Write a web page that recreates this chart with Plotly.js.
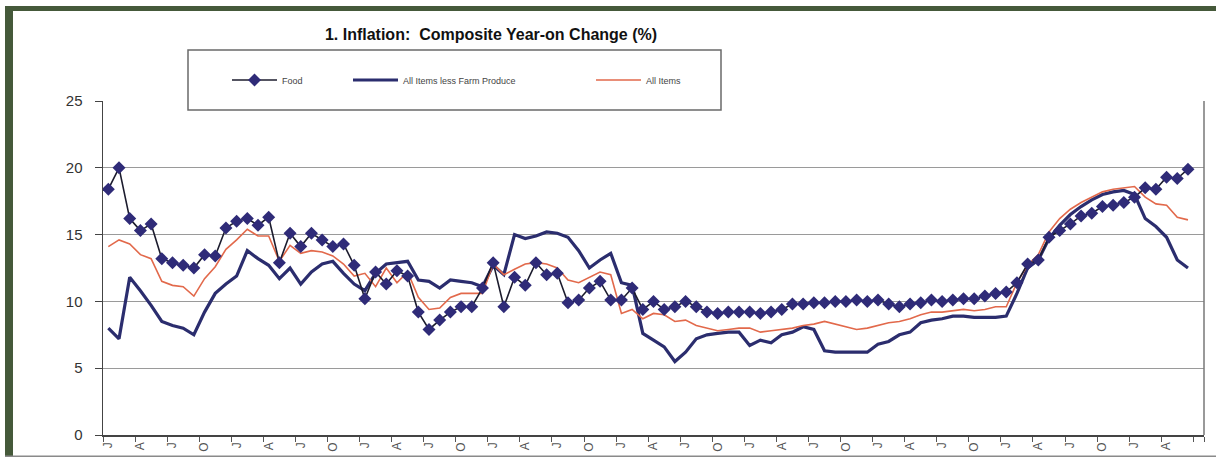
<!DOCTYPE html>
<html>
<head>
<meta charset="utf-8">
<script src="https://cdn.plot.ly/plotly-3.0.1.min.js"></script>
<style>
  html, body { margin: 0; padding: 0; background: #ffffff; }
  #chart { width: 1216px; height: 457px; }
</style>
</head>
<body>
<div id="chart"></div>
<script>
// Categories: monthly, Jan 2009 .. Jul 2017 (last category has no data)
const monthNames = ["Jan","Feb","Mar","Apr","May","Jun","Jul","Aug","Sep","Oct","Nov","Dec"];
const months = [];
for (let i = 0; i < 103; i++) {
  months.push(monthNames[i % 12] + " " + (2009 + Math.floor(i / 12)));
}

// Food (%)
const food = [
  18.4, 20.0, 16.2, 15.3, 15.8, 13.2, 12.9, 12.7, 12.5, 13.5, 13.4, 15.5,
  16.0, 16.2, 15.7, 16.3, 12.9, 15.1, 14.1, 15.1, 14.6, 14.1, 14.3, 12.7,
  10.2, 12.2, 11.3, 12.3, 11.9, 9.2, 7.9, 8.6, 9.2, 9.6, 9.6, 11.0,
  12.9, 9.6, 11.8, 11.2, 12.9, 12.0, 12.1, 9.9, 10.1, 11.0, 11.5, 10.1,
  10.1, 11.0, 9.4, 10.0, 9.4, 9.6, 10.0, 9.6, 9.2, 9.1, 9.2, 9.2,
  9.2, 9.1, 9.2, 9.4, 9.8, 9.8, 9.9, 9.9, 10.0, 10.0, 10.1, 10.0,
  10.1, 9.8, 9.6, 9.8, 9.9, 10.1, 10.0, 10.1, 10.2, 10.2, 10.4, 10.6,
  10.7, 11.4, 12.8, 13.1, 14.8, 15.3, 15.8, 16.4, 16.6, 17.1, 17.2, 17.4,
  17.8, 18.5, 18.4, 19.3, 19.2, 19.9
];

// All Items less Farm Produce (%)
const core = [
  8.0, 7.2, 11.8, 10.8, 9.7, 8.5, 8.2, 8.0, 7.5, 9.2, 10.6, 11.3,
  11.9, 13.8, 13.2, 12.7, 11.7, 12.5, 11.3, 12.2, 12.8, 13.0, 12.1, 11.3,
  10.8, 12.1, 12.8, 12.9, 13.0, 11.6, 11.5, 11.0, 11.6, 11.5, 11.4, 11.1,
  12.7, 12.0, 15.0, 14.7, 14.9, 15.2, 15.1, 14.8, 13.8, 12.5, 13.1, 13.6,
  11.4, 11.2, 7.6, 7.1, 6.6, 5.5, 6.2, 7.2, 7.5, 7.6, 7.7, 7.7,
  6.7, 7.1, 6.9, 7.5, 7.7, 8.1, 7.9, 6.3, 6.2, 6.2, 6.2, 6.2,
  6.8, 7.0, 7.5, 7.7, 8.4, 8.6, 8.7, 8.9, 8.9, 8.8, 8.8, 8.8,
  8.9, 10.6, 12.5, 13.1, 14.7, 15.7, 16.5, 17.1, 17.6, 18.0, 18.2, 18.3,
  18.0, 16.2, 15.6, 14.8, 13.1, 12.5
];

// All Items (%)
const allItems = [
  14.1, 14.6, 14.3, 13.5, 13.2, 11.5, 11.2, 11.1, 10.4, 11.7, 12.6, 13.9,
  14.6, 15.4, 14.9, 14.9, 13.0, 14.2, 13.6, 13.8, 13.7, 13.4, 12.8, 11.9,
  12.1, 11.1, 12.5, 11.4, 12.2, 10.3, 9.4, 9.5, 10.3, 10.6, 10.6, 10.6,
  12.8, 12.0, 12.4, 12.8, 12.9, 12.8, 12.5, 11.6, 11.4, 11.8, 12.2, 12.0,
  9.1, 9.4, 8.7, 9.1, 9.0, 8.5, 8.6, 8.2, 8.0, 7.8, 7.9, 8.0,
  8.0, 7.7, 7.8, 7.9, 8.0, 8.2, 8.3, 8.5, 8.3, 8.1, 7.9, 8.0,
  8.2, 8.4, 8.5, 8.7, 9.0, 9.2, 9.2, 9.3, 9.4, 9.3, 9.4, 9.6,
  9.6, 11.4, 12.7, 13.5, 15.2, 16.2, 16.9, 17.4, 17.8, 18.2, 18.4, 18.5,
  18.6, 17.8, 17.3, 17.2, 16.3, 16.1
];

// Tick labels: one every quarter, month initial
const tickVals = months.filter((m, i) => i % 3 === 0);
const tickText = tickVals.map((m, i) => (i === tickVals.length - 1 ? "" : m.charAt(0)));

const xData = months.slice(0, food.length);

// geometry helpers (pixel -> paper) for decorative frame
const L = 103, R = 12, T = 101, B = 22, W = 1216, H = 457;
const pw = W - L - R, ph = H - T - B;
const px = v => (v - L) / pw;
const py = v => (H - B - v) / ph;

const traces = [
  {
    name: "All Items less Farm Produce",
    x: xData, y: core, type: "scatter", mode: "lines",
    line: { color: "#2b2d6e", width: 3.2 },
    legend: "legend2"
  },
  {
    name: "All Items",
    x: xData, y: allItems, type: "scatter", mode: "lines",
    line: { color: "#e2694b", width: 1.6 },
    legend: "legend3"
  },
  {
    name: "Food",
    x: xData, y: food, type: "scatter", mode: "lines+markers",
    line: { color: "#1c1c2e", width: 1.6 },
    marker: { symbol: "diamond", size: 10, color: "#2f2b78", line: { width: 0 } },
    legend: "legend"
  }
];

const legendCommon = {
  orientation: "h",
  bgcolor: "rgba(0,0,0,0)",
  borderwidth: 0,
  itemwidth: 45,
  font: { family: "Liberation Sans, Arial, sans-serif", size: 9, color: "#444" },
  xref: "paper", yref: "paper",
  xanchor: "left", yanchor: "middle",
  y: py(80)
};

const layout = {
  width: W, height: H,
  margin: { l: L, r: R, t: T, b: B, pad: 0 },
  paper_bgcolor: "#ffffff",
  plot_bgcolor: "#ffffff",
  showlegend: true,
  title: {
    text: "<b>1. Inflation:  Composite Year-on Change (%)</b>",
    x: 491 / W, xref: "container", xanchor: "center",
    y: 1 - 34 / H, yref: "container", yanchor: "middle",
    font: { family: "Liberation Sans, Arial, sans-serif", size: 16, color: "#111" }
  },
  legend: Object.assign({}, legendCommon, { x: px(227) }),
  legend2: Object.assign({}, legendCommon, { x: px(348) }),
  legend3: Object.assign({}, legendCommon, { x: px(591) }),
  xaxis: {
    type: "category",
    categoryorder: "array",
    categoryarray: months,
    range: [-0.5, months.length - 0.5],
    tickmode: "array",
    tickvals: tickVals,
    ticktext: tickText,
    tickson: "boundaries",
    ticks: "outside", ticklen: 5, tickcolor: "#555", tickwidth: 1,
    tickangle: -90,
    ticklabelstandoff: 1,
    tickfont: { family: "Liberation Sans, Arial, sans-serif", size: 12, color: "#555" },
    showgrid: false,
    showline: true, linecolor: "#444", linewidth: 1.5,
    zeroline: false,
    fixedrange: true
  },
  yaxis: {
    range: [0, 25],
    tickmode: "linear", tick0: 0, dtick: 5,
    ticks: "outside", ticklen: 7, tickcolor: "#444", tickwidth: 1,
    ticklabelstandoff: 9,
    tickfont: { family: "Liberation Sans, Arial, sans-serif", size: 15, color: "#333" },
    showgrid: true, gridcolor: "#9a9a9a", gridwidth: 1.2,
    showline: true, linecolor: "#444", linewidth: 1.5,
    zeroline: false,
    fixedrange: true
  },
  shapes: [
    // right border of the plot area
    { type: "line", xref: "paper", yref: "paper", x0: 1, x1: 1, y0: 0, y1: 1,
      line: { color: "#777", width: 1.5 }, layer: "above" },
    // legend box
    { type: "rect", xref: "paper", yref: "paper",
      x0: px(188), x1: px(721), y0: py(110), y1: py(50),
      fillcolor: "#ffffff", line: { color: "#6a6a6a", width: 1.5 }, layer: "above" },
    // outer frame: left green band
    { type: "rect", xref: "paper", yref: "paper",
      x0: px(5), x1: px(13), y0: py(457), y1: py(6),
      fillcolor: "#45593a", line: { width: 0 }, layer: "above" },
    // outer frame: top green band
    { type: "rect", xref: "paper", yref: "paper",
      x0: px(5), x1: px(1216), y0: py(11), y1: py(6),
      fillcolor: "#45593a", line: { width: 0 }, layer: "above" },
    // outer frame: bottom grey line
    { type: "rect", xref: "paper", yref: "paper",
      x0: px(5), x1: px(1216), y0: py(457), y1: py(455.5),
      fillcolor: "#8a8a8a", line: { width: 0 }, layer: "above" }
  ]
};

Plotly.newPlot("chart", traces, layout, { displayModeBar: false, staticPlot: true });
</script>
</body>
</html>
